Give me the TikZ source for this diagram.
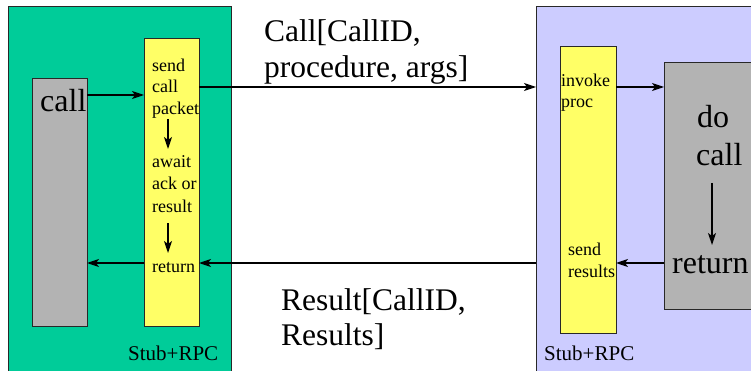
\documentclass[tikz,border=0pt]{standalone}
\usepackage{fontspec}
\setmainfont{Liberation Serif}
\usetikzlibrary{arrows.meta}
\definecolor{panelgreen}{RGB}{0,204,153}
\definecolor{panelpurple}{RGB}{204,204,255}
\definecolor{stubyellow}{RGB}{255,255,102}
\definecolor{procgray}{RGB}{179,179,179}
\definecolor{edgecol}{RGB}{40,40,40}
\begin{document}
\begin{tikzpicture}[x=1pt,y=-1pt,
 box/.style={draw=edgecol, line width=1pt, anchor=north west, inner sep=0pt, outer sep=0pt},
 small/.style={font=\fontsize{18}{21}\selectfont, inner sep=0pt, anchor=base west},
 big/.style={font=\fontsize{32}{36}\selectfont, inner sep=0pt, anchor=base west},
 mid/.style={font=\fontsize{31.5}{36}\selectfont, inner sep=0pt, anchor=base west},
 lab/.style={font=\fontsize{21}{24}\selectfont, inner sep=0pt, anchor=base west},
 flow/.style={line width=1.2pt, -{Stealth[length=12pt,width=8pt,inset=3pt]}}]
\clip (0,0) rectangle (751,371);
\fill[white] (0,0) rectangle (751,371);
% panels
\node[box, fill=panelgreen, minimum width=223pt, minimum height=380pt] (lpanel) at (8,7) {};
\node[box, fill=panelpurple, minimum width=230pt, minimum height=380pt] (rpanel) at (536,7) {};
% boxes
\node[box, fill=procgray, minimum width=55pt, minimum height=247pt] (lgray) at (32,79) {};
\node[box, fill=stubyellow, minimum width=55pt, minimum height=287pt] (lyellow) at (144,39) {};
\node[box, fill=stubyellow, minimum width=56pt, minimum height=286pt] (ryellow) at (560,47) {};
\node[box, fill=procgray, minimum width=100pt, minimum height=246pt] (rgray) at (664,63) {};
% texts left
\node[big] (tcall) at (40,112) {call};
\node[small] (tsend) at (152,72) {send};
\node[small] (tcallb) at (152,93) {call};
\node[small] (tpacket) at (152,115) {packet};
\node[small] (tawait) at (152,168) {await};
\node[small] (tack) at (152,190) {ack or};
\node[small] (tresult) at (152,212) {result};
\node[small] (treturn) at (152,272) {return};
\node[lab] (lstub) at (128,360) {Stub+RPC};
% texts right
\node[small] (tinvoke) at (561,87) {invoke};
\node[small] (tproc) at (561,108) {proc};
\node[small] (tsendr) at (568,255) {send};
\node[small] (tresults) at (568,277) {results};
\node[big] (tdo) at (697,128) {do};
\node[big] (tdocall) at (696,166) {call};
\node[big] (treturnr) at (672,273) {return};
\node[lab] (rstub) at (544,360) {Stub+RPC};
% message labels
\node[mid] (m1) at (264,42) {Call[CallID,};
\node[mid] (m2) at (264,78) {procedure, args]};
\node[mid] (m3) at (281,310) {Result[CallID,};
\node[mid] (m4) at (281,345) {Results]};
% level coordinates
\coordinate (yA) at (0,87);
\coordinate (yB) at (0,95);
\coordinate (yC) at (0,263);
\coordinate (a1s) at (168,119); \coordinate (a1e) at (168,149);
\coordinate (a2s) at (168,223); \coordinate (a2e) at (168,253);
\coordinate (a3s) at (712,183); \coordinate (a3e) at (712,245);
% connectors
\draw[flow] (lgray.east |- yB) -- (lyellow.west |- yB);
\draw[flow] (lyellow.west |- yC) -- (lgray.east |- yC);
\draw[flow] (lyellow.east |- yA) -- (rpanel.west |- yA);
\draw[flow] (rpanel.west |- yC) -- (lyellow.east |- yC);
\draw[flow] (ryellow.east |- yA) -- (rgray.west |- yA);
\draw[flow] (rgray.west |- yC) -- (ryellow.east |- yC);
\draw[flow] (a1s) -- (a1e);
\draw[flow] (a2s) -- (a2e);
\draw[flow] (a3s) -- (a3e);
\end{tikzpicture}
\end{document}
